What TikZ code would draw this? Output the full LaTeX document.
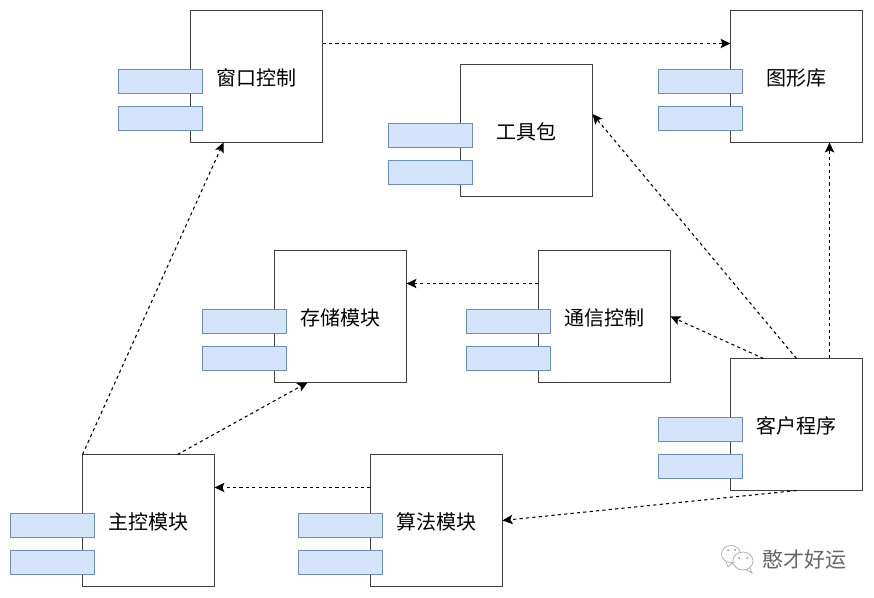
\documentclass[tikz,border=0pt]{standalone}
\usepackage{fontspec}
\setmainfont{Noto Sans CJK SC}
\usetikzlibrary{calc,arrows.meta}
\definecolor{tabfill}{HTML}{D4E4FB}
\definecolor{tabline}{HTML}{6C8EBF}
\tikzset{
  comp/.style={draw=black!75,fill=white,line width=0.8pt,minimum width=99pt,minimum height=99pt,inner sep=0pt,outer sep=0pt},
  tab/.style={draw=tabline,fill=tabfill,line width=0.8pt,minimum width=63pt,minimum height=18pt,inner sep=0pt,outer sep=0pt},
  dep/.style={line width=0.8pt,dash pattern=on 2.4pt off 2.4pt,-{Stealth[length=7.5pt,width=7pt,inset=1.6pt]},black},
  caption/.style={font=\fontsize{15}{18}\selectfont,text=black},
}
% a component box with its two interface tabs; #1 name, #2 left, #3 top, #4 label
\newcommand{\component}[4]{%
  \node[comp,anchor=north west] (#1) at (#2,#3) {};
  \node[tab,anchor=north west] (#1t) at ($(#1.north west)+(-72,59)$) {};
  \node[tab,anchor=north west] (#1b) at ($(#1.north west)+(-72,96)$) {};
  \node[caption] (#1l) at ($(#1.center)+(0,1)$) {#4};
}
\begin{document}
\begin{tikzpicture}[x=0.75pt,y=-0.75pt]
\useasboundingbox (0,0) rectangle (874,598);
\fill[white] (0,0) rectangle (874,598);
\component{win}{190.5}{10.5}{窗口控制}
\component{gfx}{730.5}{10.5}{图形库}
\component{kit}{460.5}{64.5}{工具包}
\component{sto}{274.5}{250.5}{存储模块}
\component{com}{538.5}{250.5}{通信控制}
\component{cli}{730.5}{358.5}{客户程序}
\component{ctl}{82.5}{454.5}{主控模块}
\component{alg}{370.5}{454.5}{算法模块}
% dependencies between components
\draw[dep] ($(win.north east)!.25!(win.south east)$) -- ($(gfx.north west)!.25!(gfx.south west)$);
\draw[dep] ($(cli.north west)!.75!(cli.north east)$) -- ($(gfx.south west)!.75!(gfx.south east)$);
\draw[dep] ($(cli.north west)!.5!(cli.north east)$) -- ($(kit.north east)!.375!(kit.south east)$);
\draw[dep] ($(cli.north west)!.25!(cli.north east)$) -- (com.east);
\draw[dep] ($(com.north west)!.25!(com.south west)$) -- ($(sto.north east)!.25!(sto.south east)$);
\draw[dep] (cli.south) -- ($(alg.north east)!.5!(alg.south east)$);
\draw[dep] ($(alg.north west)!.25!(alg.south west)$) -- ($(ctl.north east)!.25!(ctl.south east)$);
\draw[dep] ($(ctl.north west)!.72!(ctl.north east)$) -- ($(sto.south west)!.25!(sto.south east)$);
\draw[dep] (ctl.north west) -- ($(win.south west)!.25!(win.south east)$);
% signature mark
\begin{scope}[draw=black!35,line width=0.5pt]
  \draw (731,554) ellipse [x radius=9.5,y radius=8.5];
  \draw[fill=white] (743,561) ellipse [x radius=10,y radius=9];
  \draw (726,561.5) -- (728,567) -- (733,562.5);
  \draw (746,569.5) -- (752,573) -- (750,568);
  \fill[black!45] (728,550) circle (1) (735,550) circle (1) (739,558) circle (1) (747,558) circle (1);
\end{scope}
\node[font=\fontsize{15.75}{18}\selectfont,text=black!60,anchor=west] (mark) at (758,560) {憨才好运};
\end{tikzpicture}
\end{document}
